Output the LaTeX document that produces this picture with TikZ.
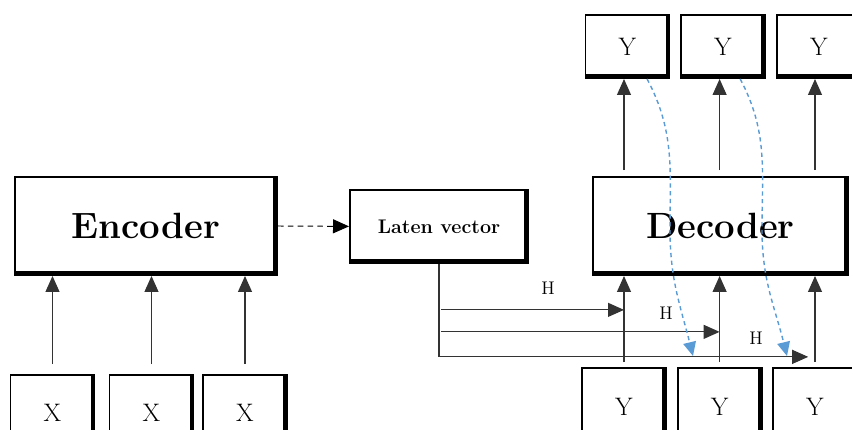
\documentclass[tikz,border=0pt]{standalone}
\usepackage{tikz}
\usetikzlibrary{arrows.meta,positioning,calc}

\definecolor{dashblue}{RGB}{91,155,213}

\begin{document}
\begin{tikzpicture}[
    box/.style={draw, line width=1.4pt, fill=white,
        path picture={\draw[line width=5.6pt] (path picture bounding box.south west)
            -- (path picture bounding box.south east) -- (path picture bounding box.north east);}},
    bigbox/.style={box, minimum height=2.45cm, font=\fontsize{26}{30}\selectfont\bfseries},
    tokbox/.style={box, minimum width=2.1cm, font=\fontsize{18}{21}\selectfont},
    arr/.style={-{Triangle[length=4mm,width=3.5mm]}, black!80, line width=0.8pt},
    back/.style={-{Triangle[length=3.5mm,width=3.2mm]}, dashblue, line width=1pt, dash pattern=on 3pt off 2.5pt}
]
    \useasboundingbox (0,0) rectangle (21.3,10.75);

    % Encoder side
    \node[bigbox, minimum width=6.55cm] (enc) at (3.65,5.1) {Encoder};
    \node[tokbox, minimum height=1.9cm] (x1) at (1.3125,0.425) {X};
    \node[tokbox, minimum height=1.9cm] (x2) at (3.7875,0.425) {X};
    \node[tokbox, minimum height=1.9cm] (x3) at (6.125,0.425) {X};

    % Latent vector
    \node[box, minimum width=4.45cm, minimum height=1.825cm,
        font=\fontsize{14}{16}\selectfont\bfseries] (lat) at (10.975,5.09) {Laten vector};

    % Decoder side
    \node[bigbox, minimum width=6.375cm] (dec) at (18.01,5.1) {Decoder};
    \node[tokbox, minimum height=1.575cm] (yt1) at (15.6875,9.5875) {Y};
    \node[tokbox, minimum height=1.575cm] (yt2) at (18.075,9.5875) {Y};
    \node[tokbox, minimum height=1.575cm] (yt3) at (20.475,9.5875) {Y};
    \node[tokbox, minimum height=1.95cm] (yb1) at (15.6,0.575) {Y};
    \node[tokbox, minimum height=1.95cm] (yb2) at (17.99,0.575) {Y};
    \node[tokbox, minimum height=1.95cm] (yb3) at (20.375,0.575) {Y};

    % inputs
    \foreach \i in {1,2,3}
        \draw[arr, shorten <=0.25cm] (x\i.north) -- (x\i.north |- enc.south);

    \draw[arr, black, line width=0.7pt, dash pattern=on 4pt off 3pt] (enc.east) -- (lat.west);

    % decoder inputs and outputs
    \foreach \i in {1,2,3} {
        \draw[arr, shorten <=0.12cm] (yb\i.north) -- (yb\i.north |- dec.south);
        \draw[arr, shorten <=0.15cm] (yb\i |- dec.north) -- (yb\i |- yt\i.south);
    }

    % hidden state H
    \coordinate (h1) at ($(lat.south)+(0,-1.15)$);
    \coordinate (h2) at ($(lat.south)+(0,-1.7)$);
    \coordinate (h3) at ($(lat.south)+(0,-2.325)$);
    \draw[black!80, line width=0.8pt] (lat.south) -- (h3);
    \draw[arr, shorten <=0.05cm] (h1) -- (h1 -| yb1);
    \draw[arr, shorten <=0.05cm] (h2) -- (h2 -| yb2);
    \draw[arr, shorten >=0.17cm] (h3) -- (h3 -| yb3);
    \node[font=\fontsize{13}{15}\selectfont] (lh1) at (13.7,3.55) {H};
    \node[font=\fontsize{13}{15}\selectfont] (lh2) at (16.65,2.925) {H};
    \node[font=\fontsize{13}{15}\selectfont] (lh3) at (18.9,2.3) {H};

    % output fed back
    \coordinate (f1) at (17.325,1.85);
    \coordinate (f2) at (19.675,1.85);
    \draw[back] ($(yt1.south)+(0.49,0)$) to[out=-62,in=90] (16.75,5.0) to[out=-90,in=104] (f1);
    \draw[back] ($(yt2.south)+(0.43,0)$) to[out=-62,in=90] (19.05,5.0) to[out=-90,in=104] (f2);
\end{tikzpicture}
\end{document}
